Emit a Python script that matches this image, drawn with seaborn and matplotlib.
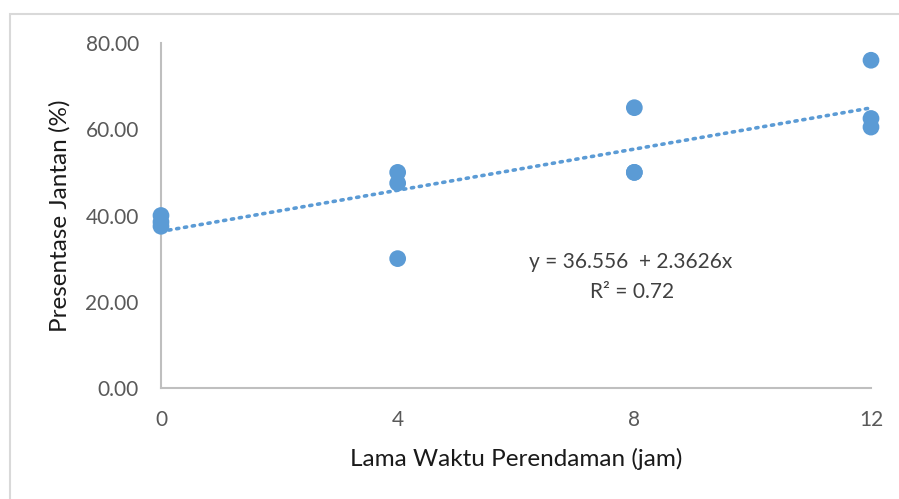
import matplotlib
matplotlib.use("Agg")
import matplotlib.pyplot as plt
import seaborn as sns
import pandas as pd
import numpy as np
from matplotlib.patches import Rectangle

# Data
lama_waktu = [0, 0, 0, 4, 4, 4, 8, 8, 8, 12, 12, 12]
presentase_jantan = [40.0, 38.5, 37.5, 50.0, 47.5, 30.0, 65.0, 50.0, 50.0, 76.0, 62.5, 60.5]
x_ticks = [0, 4, 8, 12]
y_ticks = [0, 20, 40, 60, 80]
equation_text = "y = 36.556  + 2.3626x"
r2_text = "R² = 0.72"

df = pd.DataFrame({"x": lama_waktu, "y": presentase_jantan})

sns.set_theme(style="white")
plt.rcParams["font.family"] = ["Lato", "DejaVu Sans"]

blue = "#5B9BD5"
fig = plt.figure(figsize=(8.99, 4.99), dpi=100)
ax = fig.add_axes([161/899, 1 - 388/499, 710/899, 345/499])

sns.regplot(data=df, x="x", y="y", ax=ax, ci=None, truncate=True,
            scatter_kws=dict(s=145, color=blue, alpha=1, edgecolor="none", zorder=3, clip_on=False),
            line_kws=dict(color=blue, linestyle=(0, (0.6, 1.6)), linewidth=2.6,
                          dash_capstyle="round", zorder=2, clip_on=False))

ax.set_xlim(0, 12)
ax.set_ylim(0, 80)
ax.set_xticks(x_ticks)
ax.set_xticklabels([str(t) for t in x_ticks])
ax.set_yticks(y_ticks)
ax.set_yticklabels([f"{t:.2f}" for t in y_ticks])
ax.tick_params(axis="both", length=0, labelsize=15, labelcolor="#595959", pad=16)

for s in ["top", "right"]:
    ax.spines[s].set_visible(False)
for s in ["left", "bottom"]:
    ax.spines[s].set_color("#BFBFBF")
    ax.spines[s].set_linewidth(1.5)
ax.spines["left"].set_zorder(1)

ax.set_xlabel("Lama Waktu Perendaman (jam)", fontsize=17.5, color="#1a1a1a", labelpad=13)
ax.set_ylabel("Presentase Jantan (%)", fontsize=17.5, color="#1a1a1a", labelpad=11)

fig.text(631/899, 1 - 262/499, equation_text, ha="center", va="center",
         fontsize=15, color="#404040")
fig.text(632/899, 1 - 292/499, r2_text, ha="center", va="center",
         fontsize=15, color="#404040")

fig.patches.append(Rectangle((10/899, -0.05), 1.1, 1 - 14/499 + 0.05, transform=fig.transFigure,
                             fill=False, edgecolor="#D9D9D9", linewidth=1.5, zorder=0))

fig.savefig("out.png", dpi=100)
